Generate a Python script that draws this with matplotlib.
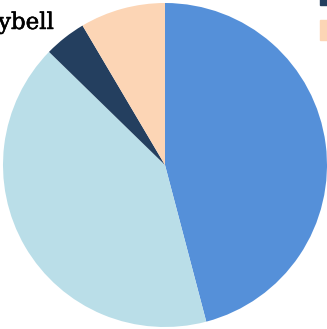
import matplotlib.pyplot as plt
import matplotlib.patheffects as pe

# ---- data ----
labels = ["Blue", "Light Blue", "Navy", "Peach"]
shares = [45.9, 41.4, 4.2, 8.5]
colors = ["#5590d9", "#badee8", "#243f5f", "#fcd5b5"]

fig = plt.figure(figsize=(3.27, 3.29), dpi=100)
ax = fig.add_axes([0, 0, 1, 1])

ax.pie(shares, colors=colors, startangle=90, counterclock=False,
       radius=1.0, wedgeprops=dict(linewidth=0))
ax.set_xlim(-1.0185, 1.0)
ax.set_ylim(-1.0123, 1.0185)
ax.set_aspect("equal")
ax.axis("off")

# title, running off the left edge
fig.text(-0.006, 0.912, "ybell", ha="left", va="baseline",
         fontsize=16.5, family="DejaVu Serif", color="#000000",
         path_effects=[pe.withStroke(linewidth=0.4, foreground="#000000")])

# legend handles, running off the right edge
for i, c in enumerate(colors[2:]):
    fig.patches.append(plt.Rectangle((320 / 327, 1 - (5 + 35 * i) / 329),
                                     0.1, 20 / 329, color=c,
                                     transform=fig.transFigure, figure=fig))

fig.savefig("out.png", dpi=100)
